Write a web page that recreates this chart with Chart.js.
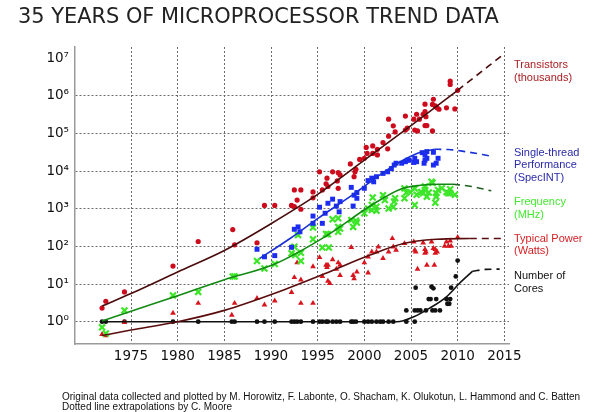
<!DOCTYPE html>
<html>
<head>
<meta charset="utf-8">
<title>35 Years of Microprocessor Trend Data</title>
<script src="https://cdn.jsdelivr.net/npm/chart.js@4.4.1/dist/chart.umd.min.js"></script>
<style>
  body { margin: 0; background: #fff; }
  #wrap { position: relative; width: 600px; height: 412px; overflow: hidden; }
  #chart { position: absolute; left: 0; top: 0; }
  .title { position: absolute; left: 18px; top: 6px; font: 20.9px/1 "DejaVu Sans", Verdana, sans-serif; color: #222; white-space: nowrap; }
  .note { position: absolute; left: 62px; font: 10px/1 "Liberation Sans", Arial, sans-serif; color: #111; white-space: nowrap; }
  .series-label { position: absolute; left: 514px; font: 11px/12.5px "Liberation Sans", Arial, sans-serif; white-space: nowrap; }
</style>
</head>
<body>
<div id="wrap">
  <canvas id="chart" width="600" height="412"></canvas>
  <div class="title">35 YEARS OF MICROPROCESSOR TREND DATA</div>
  <div class="series-label" style="top:58px; color:#a81c20">Transistors<br>(thousands)</div>
  <div class="series-label" style="top:145.5px; color:#2a2aa8">Single-thread<br>Performance<br>(SpecINT)</div>
  <div class="series-label" style="top:195px; color:#44e830">Frequency<br>(MHz)</div>
  <div class="series-label" style="top:231.5px; color:#d41e22">Typical Power<br>(Watts)</div>
  <div class="series-label" style="top:269px; color:#111">Number of<br>Cores</div>
  <div class="note" style="top:392.2px">Original data collected and plotted by M. Horowitz, F. Labonte, O. Shacham, K. Olukotun, L. Hammond and C. Batten</div>
  <div class="note" style="top:401.5px">Dotted line extrapolations by C. Moore</div>
</div>
<script>
// Axis ticks
const xTickYears = [1975, 1980, 1985, 1990, 1995, 2000, 2005, 2010, 2015];
const yTickValues = [1, 10, 100, 1000, 10000, 100000, 1000000, 10000000];
const yTickLabels = ['10⁰', '10¹', '10²', '10³', '10⁴', '10⁵', '10⁶', '10⁷'];

// Transistors (thousands)
const transistorYears = [1971.9, 1972.3, 1974.3, 1979.5, 1982.2, 1985.9, 1986.1, 1988.5, 1989.3, 1990.4,
  1992.2, 1992.5, 1992.8, 1993.2, 1992.5, 1993.2, 1994.5, 1994.5, 1995.2, 1995.5,
  1995.9, 1996.0, 1996.1, 1996.6, 1997.2, 1997.4, 1997.1, 1997.2, 1998.5, 1999.0,
  1999.1, 1998.9, 1999.5, 2000.0, 2000.3, 2000.2, 2000.9, 2000.9, 2001.4, 2001.4,
  2002.0, 2002.6, 2002.5, 2002.6, 2003.3, 2003.1, 2004.4, 2004.4, 2004.6, 2005.6,
  2005.3, 2005.9, 2005.4, 2005.7, 2006.3, 2006.5, 2006.5, 2006.6, 2006.5, 2006.7,
  2007.3, 2007.4, 2007.3, 2007.6, 2007.8, 2008.0, 2008.8, 2009.7, 2009.2, 2009.2, 2010.0];
const transistorValues = [2.3, 3.5, 6.2, 30, 135, 280, 110, 125, 1230, 1230,
  1230, 1150, 1700, 970, 3160, 3160, 1950, 2800, 9600, 3160,
  4600, 6500, 3900, 9600, 9100, 7900, 5500, 3500, 15500, 9600,
  11200, 7100, 20400, 21900, 29500, 42700, 46800, 29500, 38000, 27000,
  57500, 85000, 39000, 240000, 110000, 160000, 290000, 123000, 138000, 324000,
  240000, 240000, 123000, 117000, 324000, 600000, 380000, 280000, 162000, 162000,
  117000, 810000, 590000, 540000, 480000, 440000, 480000, 450000, 2450000, 2000000, 1400000];
const transistorFitYears = [1971.9, 1975, 1980, 1985, 1990, 1995, 2000, 2005, 2010];
const transistorFitValues = [2.6, 5.6, 21, 78, 400, 2400, 19500, 162000, 1400000];
const transistorExtYears = [2010, 2014.7];
const transistorExtValues = [1400000, 11500000];

// Single-thread performance (SpecINT)
const perfYears = [1988.5, 1989.3, 1990.4, 1992.2, 1992.5, 1992.9, 1993.1, 1994.5, 1994.5, 1995.2,
  1995.5, 1995.8, 1996.1, 1996.6, 1997.0, 1997.4, 1997.3, 1998.8, 1998.9, 1999.2,
  1998.6, 1999.2, 2000.0, 2000.4, 2000.8, 2001.3, 2001.0, 2002.0, 2002.5, 2002.9,
  2003.2, 2003.4, 2004.0, 2004.4, 2004.6, 2004.8, 2005.4, 2005.6, 2005.3, 2006.2,
  2006.5, 2006.7, 2006.5, 2006.4, 2006.7, 2007.4, 2007.9, 2007.7, 2007.4];
const perfValues = [84, 53, 57, 95, 285, 330, 245, 640, 410, 1100,
  410, 760, 1400, 1800, 1180, 1550, 830, 1180, 2300, 2700,
  3700, 1900, 3500, 5600, 6500, 7100, 5200, 8700, 9600, 11700,
  14500, 16200, 16200, 17800, 19500, 19500, 21900, 17800, 17000, 30900,
  26900, 21900, 19500, 16200, 33000, 31600, 21900, 16200, 14500];
const perfFitYears = [1988.8, 1992, 1995, 1999.2, 2002, 2004, 2006, 2007.5];
const perfFitValues = [48, 160, 550, 2800, 9100, 18600, 31600, 38000];
const perfExtYears = [2007.5, 2009, 2010.8, 2013.6];
const perfExtValues = [38000, 37500, 33000, 25000];

// Frequency (MHz)
const freqYears = [1971.9, 1972.3, 1974.3, 1979.5, 1982.2, 1985.9, 1986.1, 1988.5, 1989.3, 1990.4,
  1992.2, 1992.5, 1992.6, 1993.2, 1993.2, 1992.9, 1994.5, 1994.5, 1995.5, 1996.2,
  1995.9, 1996.1, 1996.6, 1997.2, 1997.4, 1997.2, 1997.2, 1998.6, 1998.8, 1999.1,
  1999.2, 2000.0, 2000.4, 2000.8, 2000.9, 2001.3, 2001.3, 2002.0, 2002.2, 2002.6,
  2003.1, 2003.2, 2003.3, 2004.3, 2004.5, 2004.3, 2004.9, 2005.4, 2005.6, 2006.1,
  2006.3, 2006.5, 2006.7, 2006.9, 2007.6, 2007.7, 2007.7, 2008.8, 2009.2, 2009.7,
  2005.4, 2006.5, 2007.2, 2007.9, 2009.2, 2009.0, 2007.3, 2008.3, 2000.8];
const freqValues = [0.71, 0.49, 2.0, 5.0, 6.2, 16, 16, 41, 26, 34,
  66, 98, 59, 68, 41, 200, 155, 316, 93, 93,
  214, 210, 525, 245, 300, 330, 560, 500, 330, 480,
  430, 760, 1020, 930, 2000, 1130, 890, 2300, 1700, 1020,
  1120, 1550, 1900, 3470, 2700, 1900, 2800, 1260, 2350, 2800,
  2600, 3160, 2100, 2700, 1450, 2100, 2600, 2800, 2600, 2350,
  3470, 3900, 5200, 3160, 3300, 2600, 4900, 3500, 1260];
const freqFitYears = [1971.9, 1975, 1980, 1985, 1990.4, 1995.8, 2000.8, 2004, 2006, 2008, 2009.5];
const freqFitValues = [1.05, 1.9, 4.9, 13, 34, 182, 1260, 3400, 4200, 4500, 4500];
const freqExtYears = [2009.5, 2011.5, 2013.6];
const freqExtValues = [4500, 3900, 3000];

// Typical power (Watts)
const powerYears = [1971.9, 1972.3, 1974.3, 1979.5, 1982.2, 1985.8, 1986.1, 1988.5, 1989.3, 1990.4,
  1992.2, 1992.5, 1992.8, 1993.2, 1993.2, 1994.5, 1994.5, 1995.2, 1995.5, 1995.9,
  1996.1, 1996.0, 1996.3, 1996.1, 1996.6, 1997.0, 1997.2, 1997.4, 1997.4, 1998.6,
  1998.9, 1998.8, 1999.2, 2000.0, 2000.4, 2000.8, 2000.4, 2001.5, 2001.3, 2002.0,
  2002.6, 2003.0, 2003.1, 2003.4, 2004.3, 2005.3, 2005.4, 2005.5, 2005.7, 2006.5,
  2006.6, 2006.5, 2006.3, 2006.7, 2007.2, 2007.4, 2007.6, 2007.8, 2007.6, 2007.5,
  2008.8, 2009.2, 2009.0, 2009.3, 2008.6, 2010.0];
const powerValues = [0.46, 0.43, 0.96, 1.7, 3.1, 1.5, 3.1, 4.2, 2.8, 3.6,
  6.0, 15, 37, 13, 3.1, 29, 3.1, 51, 16, 32,
  32, 28, 10.5, 12, 45, 25, 37, 32, 17, 95,
  14, 17, 21, 37, 20, 72, 53, 98, 72, 48,
  72, 163, 98, 80, 120, 133, 80, 72, 25, 84,
  72, 66, 125, 32, 133, 89, 84, 72, 66, 32,
  133, 141, 102, 102, 102, 174];
const powerFitYears = [1971.9, 1975, 1980, 1985, 1990.4, 1995.8, 2000.6, 2004.2, 2007.8, 2011.3];
const powerFitValues = [0.43, 0.6, 1.0, 2.0, 5.7, 19, 59, 120, 155, 163];
const powerExtYears = [2011.3, 2014.8];
const powerExtValues = [163, 163];

// Number of cores
const coreYears = [1971.9, 1972.3, 1974.3, 1979.5, 1982.2, 1985.8, 1986.1, 1988.5, 1989.3, 1990.4,
  1992.2, 1992.5, 1992.8, 1993.2, 1994.5, 1995.2, 1995.5, 1995.9, 1996.1, 1996.6,
  1997.0, 1997.4, 1998.6, 1998.8, 1999.1, 2000.0, 2000.4, 2000.8, 2001.3, 2001.7,
  2002.0, 2002.6, 2003.1, 2004.5, 2005.4,
  2004.5, 2005.4, 2005.7, 2006.0, 2006.6, 2007.3, 2007.6, 2008.1,
  2006.9, 2007.1, 2007.7, 2008.8, 2009.2, 2008.9, 2009.1,
  2005.5, 2007.2, 2007.4, 2009.3, 2009.8, 2010.0];
const coreValues = [1, 1, 1, 1, 1, 1, 1, 1, 1, 1,
  1, 1, 1, 1, 1, 1, 1, 1, 1, 1,
  1, 1, 1, 1, 1, 1, 1, 1, 1, 1,
  1, 1, 1, 1, 1,
  2, 2, 2, 2, 2, 2, 2, 2,
  4, 4, 4, 4, 4, 3, 3,
  8, 8.5, 7.7, 8, 16, 42];
const coreFitYears = [1971.9, 1990, 2003.5, 2005.3, 2007.0, 2008.8, 2010.2, 2011.6];
const coreFitValues = [1, 1, 1, 1.36, 2.3, 4.6, 10.5, 22];
const coreExtYears = [2011.6, 2013, 2014.5];
const coreExtValues = [22, 24.5, 25];

// Helpers
const pts = (xs, ys) => xs.map((x, i) => ({ x: x, y: ys[i] }));

const markers = (data, style, radius, color, stroke) => ({
    data: data,
    showLine: false,
    pointStyle: style,
    pointRadius: radius,
    pointBackgroundColor: stroke ? 'transparent' : color,
    pointBorderColor: color,
    pointBorderWidth: stroke ? 2.2 : 0,
    order: 2
});

const trend = (data, color, dashed) => ({
    data: data,
    showLine: true,
    pointRadius: 0,
    borderColor: color,
    borderWidth: 1.6,
    borderDash: dashed ? [7, 5] : [],
    cubicInterpolationMode: 'monotone',
    fill: false,
    order: 1
});

const ctx = document.getElementById('chart').getContext('2d');

new Chart(ctx, {
    type: 'scatter',
    data: {
        datasets: [
            markers(pts(transistorYears, transistorValues), 'circle', 2.6, '#cc0b1c'),
            markers(pts(perfYears, perfValues), 'rect', 3.5, '#1c2cf0'),
            markers(pts(freqYears, freqValues), 'crossRot', 4.2, '#3ee62a', true),
            markers(pts(powerYears, powerValues), 'triangle', 3.3, '#d8141c'),
            markers(pts(coreYears, coreValues), 'circle', 2.4, '#111111'),
            trend(pts(transistorFitYears, transistorFitValues), '#4a0c0c'),
            trend(pts(transistorExtYears, transistorExtValues), '#4a0c0c', true),
            trend(pts(perfFitYears, perfFitValues), '#1830d8'),
            trend(pts(perfExtYears, perfExtValues), '#1830d8', true),
            trend(pts(freqFitYears, freqFitValues), '#128a12'),
            trend(pts(freqExtYears, freqExtValues), '#1f5f1f', true),
            trend(pts(powerFitYears, powerFitValues), '#5a0c0c'),
            trend(pts(powerExtYears, powerExtValues), '#5a0c0c', true),
            trend(pts(coreFitYears, coreFitValues), '#111111'),
            trend(pts(coreExtYears, coreExtValues), '#111111', true)
        ]
    },
    options: {
        responsive: false,
        animation: false,
        layout: { padding: { top: 47, right: 91, left: 0, bottom: 0 } },
        plugins: {
            legend: { display: false },
            tooltip: { enabled: false },
            title: { display: false }
        },
        scales: {
            x: {
                type: 'linear',
                min: 1969,
                max: 2015.5,
                afterBuildTicks: scale => { scale.ticks = xTickYears.map(v => ({ value: v })); },
                afterFit: scale => { scale.height = 68; },
                ticks: {
                    callback: v => String(v),
                    font: { family: 'DejaVu Sans', size: 13.5 },
                    color: '#111',
                    padding: 4,
                    maxRotation: 0,
                    autoSkip: false
                },
                grid: { color: '#6a6a6a', lineWidth: 1, drawTicks: false },
                border: { color: '#9a9a9a', width: 1.5, dash: [2, 2] }
            },
            y: {
                type: 'logarithmic',
                min: 0.256,
                max: 19800000,
                afterBuildTicks: scale => { scale.ticks = yTickValues.map(v => ({ value: v })); },
                afterFit: scale => { scale.width = 75; },
                ticks: {
                    callback: (v, i) => yTickLabels[i],
                    font: { family: 'DejaVu Sans', size: 13.5 },
                    color: '#111',
                    padding: 6,
                    autoSkip: false
                },
                grid: {
                    color: c => (c.tick && c.tick.value >= 10000000) ? 'rgba(0,0,0,0)' : '#6a6a6a',
                    lineWidth: 1,
                    drawTicks: false
                },
                border: { color: '#9a9a9a', width: 1.5, dash: [2, 2] }
            }
        }
    }
});
</script>
</body>
</html>
